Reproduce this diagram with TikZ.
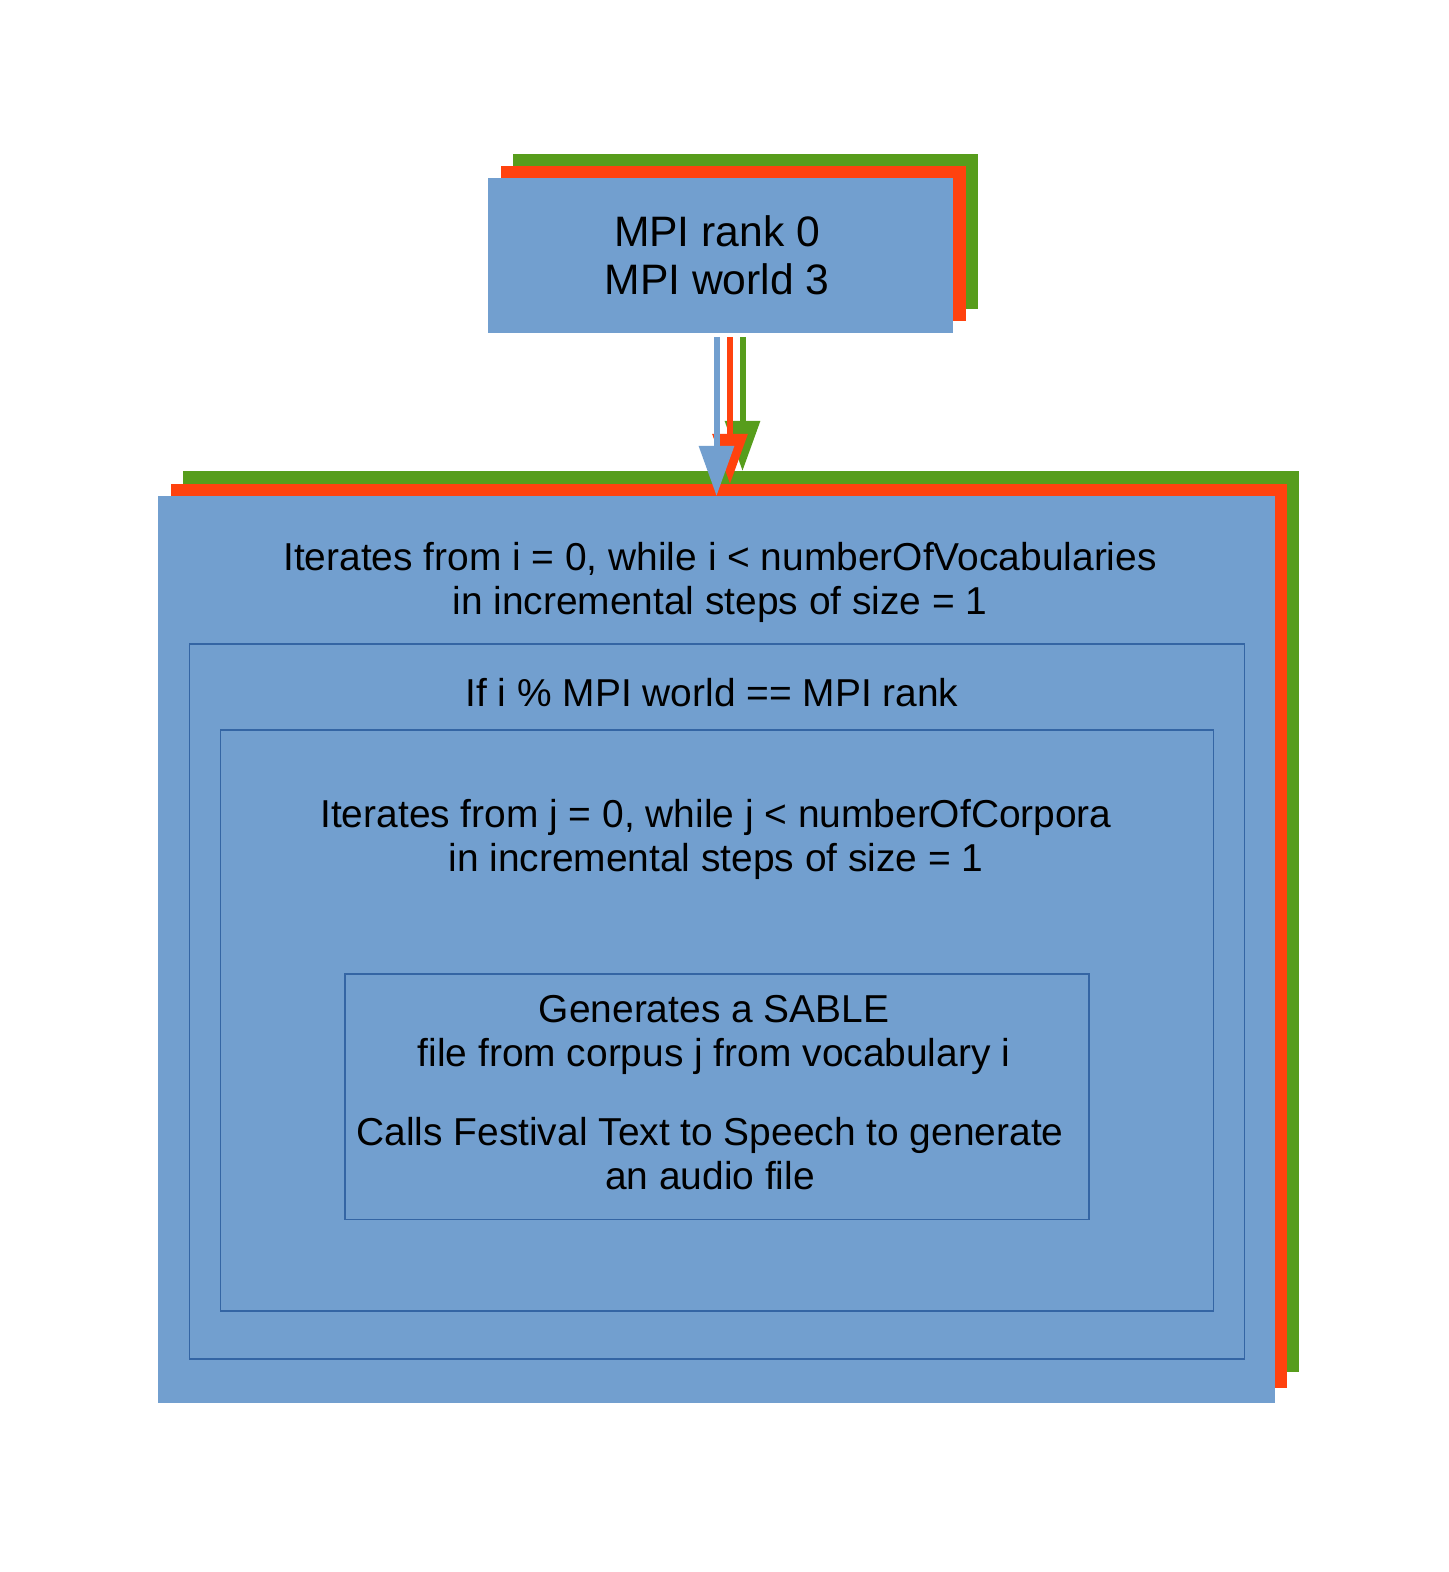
\documentclass[tikz,border=0pt]{standalone}
\usepackage{fontspec}
\setmainfont{Liberation Sans}
\usetikzlibrary{fit,arrows.meta}
\definecolor{lblue}{HTML}{729FCF}
\definecolor{lred}{HTML}{FF420E}
\definecolor{lgreen}{HTML}{579D1C}
\definecolor{dblue}{HTML}{3465A4}
\tikzset{
  slab/.style={inner sep=0pt, outer sep=0pt, draw=none},
  frame/.style={inner sep=0pt, outer sep=0pt, draw=dblue, line width=0.6pt},
  txt/.style={align=center, inner sep=0pt, font=\fontsize{19.45}{22}\selectfont},
  bigtxt/.style={align=center, inner sep=0pt, font=\fontsize{21.3}{24}\selectfont},
  flow/.style={line width=3pt, -{Triangle[width=17pt,length=25pt]}}
}
\begin{document}
\begin{tikzpicture}[x=0.5pt,y=-0.5pt]
\useasboundingbox (0,0) rectangle (1448,1572);
% top stack
\node[slab, fill=lgreen, fit={(513,154)(978,309)}] (topg) {};
\node[slab, fill=lred, fit={(501,166)(966,321)}] (topr) {};
\node[slab, fill=lblue, fit={(488,178)(953,333)}] (top) {};
\node[bigtxt] (t0) at (717,255) {MPI rank 0\\MPI world 3};
% big stack
\node[slab, fill=lgreen, fit={(183,471)(1299,1372)}] (bigg) {};
\node[slab, fill=lred, fit={(171,484)(1287,1388)}] (bigr) {};
\node[slab, fill=lblue, fit={(158,496)(1275,1403)}] (big) {};
% arrows
\draw[flow, lgreen] ([xshift=11pt,yshift=-2pt]top.south) -- ([xshift=11pt]top.south |- bigg.north);
\draw[flow, lred] ([xshift=4.75pt,yshift=-2pt]top.south) -- ([xshift=4.75pt]top.south |- bigr.north);
\draw[flow, lblue] ([xshift=-2pt,yshift=-2pt]top.south) -- ([xshift=-2pt]top.south |- big.north);
% inner frames
\node[frame, fit={(189.5,644)(1244.5,1359)}] (ifbox) {};
\node[frame, fit={(220.5,730)(1213.5,1311)}] (jloop) {};
\node[frame, fit={(345,974)(1089,1219.5)}] (gen) {};
% texts
\node[txt] (t1) at (720,582.5) {Iterates from i = 0, while i < numberOfVocabularies\\in incremental steps of size = 1};
\node[txt] (t2) at (712,692.5) {If i \% MPI world == MPI rank};
\node[txt] (t3) at (716,839) {Iterates from j = 0, while j < numberOfCorpora\\in incremental steps of size = 1};
\node[txt] (t4) at (714,1034.5) {Generates a SABLE\\file from corpus j from vocabulary i};
\node[txt] (t5) at (710,1153.5) {Calls Festival Text to Speech to generate\\an audio file};
\end{tikzpicture}
\end{document}
